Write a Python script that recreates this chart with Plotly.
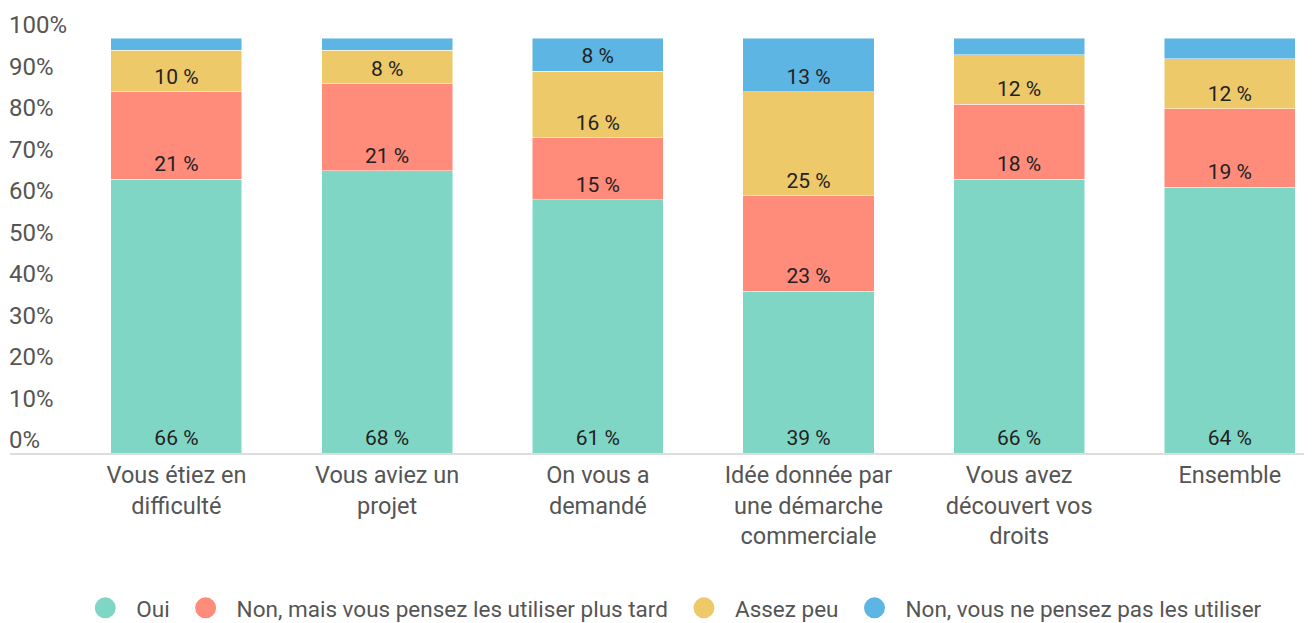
import plotly.graph_objects as go

categories = [
    "Vous étiez en<br>difficulté",
    "Vous aviez un<br>projet",
    "On vous a<br>demandé",
    "Idée donnée par<br>une démarche<br>commerciale",
    "Vous avez<br>découvert vos<br>droits",
    "Ensemble",
]
oui = [66, 68, 61, 39, 66, 64]
non_plus_tard = [21, 21, 15, 23, 18, 19]
assez_peu = [10, 8, 16, 25, 12, 12]
non_pas = [3, 3, 8, 13, 4, 5]

series_names = [
    "Oui",
    "Non, mais vous pensez les utiliser plus tard",
    "Assez peu",
    "Non, vous ne pensez pas les utiliser",
]
series_values = [oui, non_plus_tard, assez_peu, non_pas]
colors = ["#80D6C5", "#FF8B7B", "#EEC96A", "#5DB5E3"]

tick_vals = [0, 10, 20, 30, 40, 50, 60, 70, 80, 90, 100]
tick_text = [f"{v}%" for v in tick_vals]

FONT = "Roboto"

fig = go.Figure()
for name, vals, col in zip(series_names, series_values, colors):
    fig.add_trace(go.Bar(
        x=categories, y=vals, name=name,
        marker=dict(color=col, line=dict(color="rgba(255,255,255,0.6)", width=0.8)),
        text=[f"{v} %" if v >= 6 else "" for v in vals],
        textposition="inside", insidetextanchor="start", textangle=0,
        textfont=dict(family=FONT, size=21, color="#222222"),
        showlegend=False, hoverinfo="skip",
    ))
    fig.add_trace(go.Scatter(
        x=[None], y=[None], mode="markers", name=name,
        marker=dict(color=col, size=16, symbol="circle", line=dict(color=col, width=5)),
        showlegend=True,
    ))

# The page body adds an 8px offset, so the figure is 8px smaller on each axis.
fig.update_layout(
    width=1304, height=615,
    margin=dict(l=2, r=0, t=30, b=170, autoexpand=False),
    barmode="stack", bargap=0.378,
    plot_bgcolor="white", paper_bgcolor="white",
    font=dict(family=FONT, color="#555555"),
    uniformtext=dict(minsize=8),
    legend=dict(
        orientation="h", x=0.5075, xanchor="center", y=-0.374, yanchor="middle",
        font=dict(family=FONT, size=22.5, color="#555555"),
        itemwidth=52, traceorder="normal",
    ),
)
fig.update_xaxes(
    type="category", range=[-0.79, 5.39], automargin=False,
    showline=True, linecolor="#DDDDDD", linewidth=2,
    showgrid=False, ticks="", tickfont=dict(family=FONT, size=23.5, color="#555555"),
)
fig.update_yaxes(
    range=[0, 100], tickvals=tick_vals, ticktext=tick_text, automargin=False,
    showgrid=False, zeroline=False, showline=False, ticks="",
    ticklabelposition="inside", ticklabeloverflow="allow",
    ticklabelshift=-13, ticklabelstandoff=-4,
    tickfont=dict(family=FONT, size=24, color="#555555"),
)

fig.write_html("out.html")
